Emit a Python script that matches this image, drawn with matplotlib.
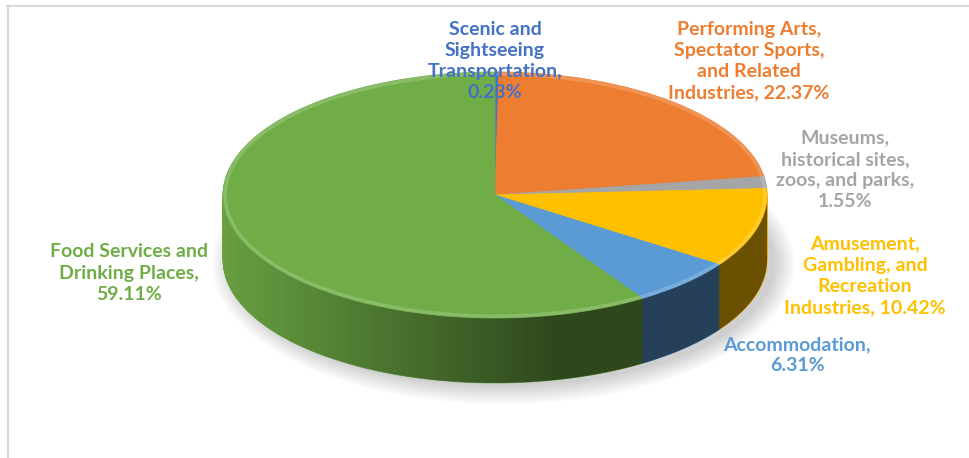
import numpy as np
import matplotlib.pyplot as plt
from matplotlib.patches import Ellipse, PathPatch
from matplotlib.path import Path
from matplotlib.lines import Line2D
from matplotlib.colors import to_rgb

# data, clockwise from 12 o'clock
names = ['Scenic and\nSightseeing\nTransportation,',
         'Performing Arts,\nSpectator Sports,\nand Related\nIndustries,',
         'Museums,\nhistorical sites,\nzoos, and parks,',
         'Amusement,\nGambling, and\nRecreation\nIndustries,',
         'Accommodation,',
         'Food Services and\nDrinking Places,']
shares = [0.23, 22.37, 1.55, 10.42, 6.31, 59.11]
pct_sep = ['\n', ' ', '\n', ' ', '\n', '\n']
colors = ['#4472C4', '#ED7D31', '#A5A5A5', '#FFC000', '#5B9BD5', '#70AD47']

# label centres in pixels (x, y from top)
label_pos = [(495, 61), (749, 61), (845, 170), (865, 276), (797, 355), (129, 273)]

W, H = 969, 458
fig = plt.figure(figsize=(W / 100, H / 100), dpi=100)
ax = fig.add_axes([0, 0, 1, 1])

# pie geometry in pixels
cx, cy = 495, 195          # centre of top face (y from top)
rx, ry = 272, 123          # half axes of top face
thick = 65 / ry            # rim thickness in y units

def darker(c, f):
    r, g, b = to_rgb(c)
    return (r * f, g * f, b * f)

# soft shadow
for k in range(8):
    ax.add_patch(Ellipse((0.03, -thick - 0.03), 2.0 + 0.02 * k, 2.0 + 0.04 * k,
                         color='#000000', alpha=0.025, lw=0, zorder=0))

# rim: stack of pies
rim_colors = [darker(c, 0.92) for c in colors]
for dy in np.linspace(thick, 0.01, 45):
    wedges, _ = ax.pie(shares, colors=rim_colors, startangle=90, counterclock=False,
                       center=(0, -dy), radius=1, wedgeprops=dict(linewidth=0))
    for w in wedges:
        w.set_edgecolor(w.get_facecolor())
        w.set_linewidth(0.6)
        w.set_zorder(1)

# lighting gradient on rim
t = np.linspace(np.pi, 2 * np.pi, 200)
verts = np.concatenate([np.c_[np.cos(t), np.sin(t)],
                        np.c_[np.cos(t[::-1]), np.sin(t[::-1]) - thick]])
clip = PathPatch(Path(verts), facecolor='none', edgecolor='none')
ax.add_patch(clip)
grad = np.zeros((1, 256, 4))
grad[0, :, 3] = np.clip(np.linspace(0.0, 0.9, 256), 0, 0.55)
im = ax.imshow(grad, extent=[-1, 1, -1 - thick, 0], aspect='auto', zorder=2)
im.set_clip_path(clip)

# top face
wedges, _ = ax.pie(shares, colors=colors, startangle=90, counterclock=False,
                   center=(0, 0), radius=1, wedgeprops=dict(linewidth=0))
for w in wedges:
    w.set_edgecolor(w.get_facecolor())
    w.set_linewidth(0.6)
    w.set_zorder(3)
ax.add_patch(Ellipse((0, 0), 1.985, 1.97, fill=False, ec='white', alpha=0.18, lw=2.5, zorder=4))

ax.set_aspect('auto')
ax.set_xlim(-cx / rx, (W - cx) / rx)
ax.set_ylim(-(H - cy) / ry, cy / ry)
ax.axis('off')

# labels
for name, v, sep, c, (px, py) in zip(names, shares, pct_sep, colors, label_pos):
    fig.text(px / W, 1 - py / H, f'{name}{sep}{v:.2f}%', color=c, fontsize=14,
             fontweight='bold', family='Lato', ha='center', va='center',
             multialignment='center', linespacing=1.3, zorder=10)

# chart area frame
fig.add_artist(Line2D([7 / W, 1], [1 - 5.5 / H] * 2, transform=fig.transFigure,
                      color='#D9D9D9', lw=1.5))
fig.add_artist(Line2D([7.5 / W] * 2, [0, 1 - 5.5 / H], transform=fig.transFigure,
                      color='#D9D9D9', lw=1.5))

fig.savefig('out.png', dpi=100)
